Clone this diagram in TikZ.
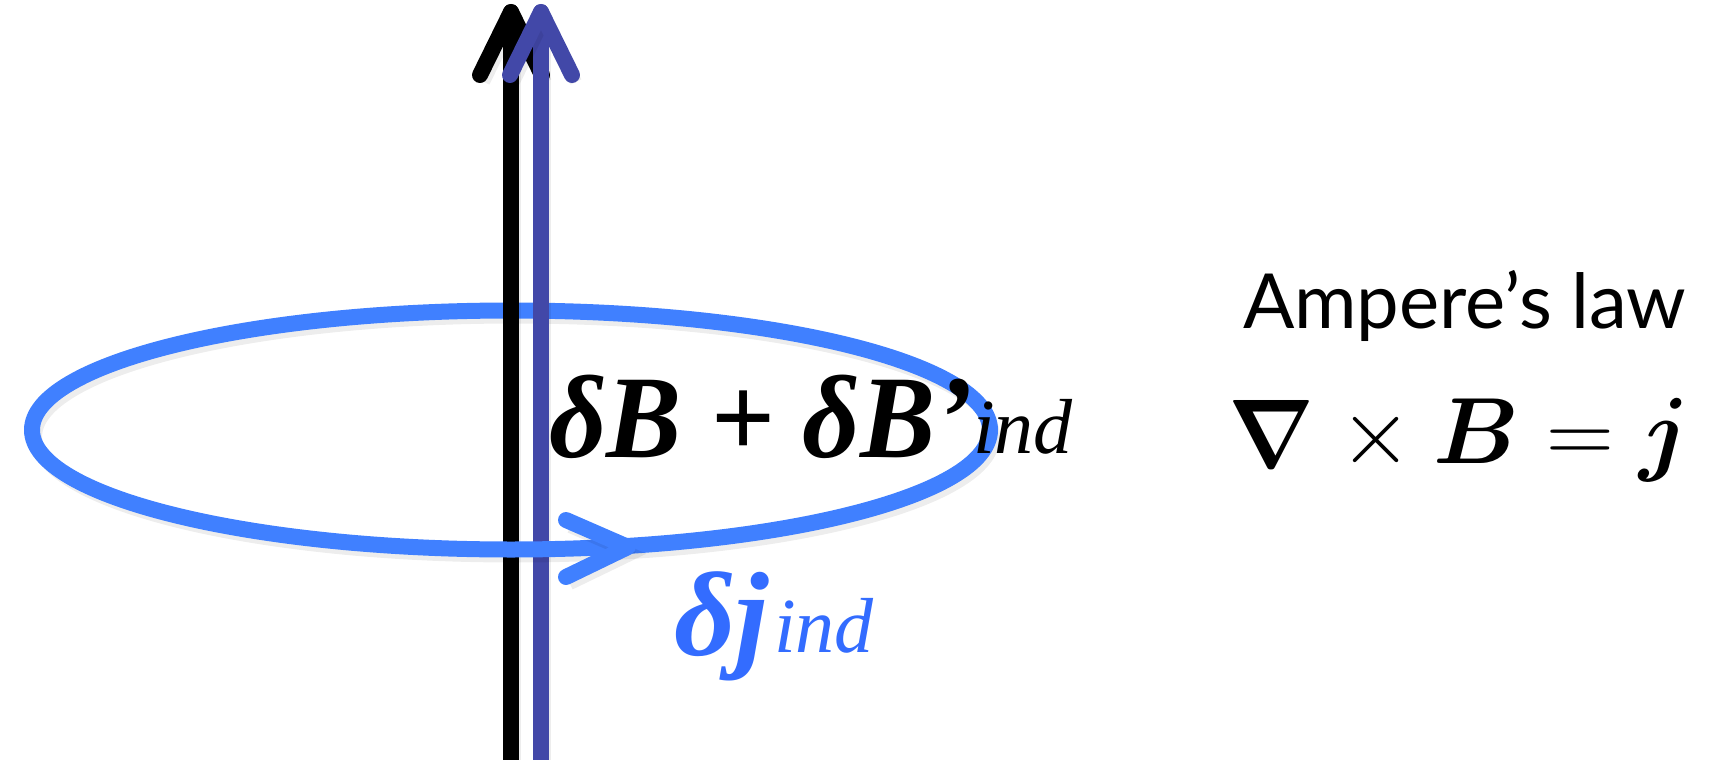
\RequirePackage{fix-cm}
\documentclass[tikz,border=0pt]{standalone}
\usepackage[no-math]{fontspec}
\usepackage{amsmath}
\setmainfont{Liberation Serif}
\newfontfamily\lawfont{Lato}
\definecolor{wireblue}{RGB}{66,72,168}
\definecolor{loopblue}{RGB}{64,128,255}
\definecolor{textblue}{RGB}{51,108,255}
\tikzset{
  softshadow/.style={
    preaction={draw=black, opacity=0.07, line width=+12pt,
      transform canvas={shift={(4pt,-7pt)}}},
    preaction={draw=black, opacity=0.12, line width=+4pt,
      transform canvas={shift={(3pt,-5pt)}}}},
  wire/.style={softshadow, line width=16pt, line cap=round, line join=round},
  loopline/.style={softshadow, line width=16pt, loopblue, line cap=round, line join=round},
  lbl/.style={inner sep=0pt, outer sep=0pt},
}
\begin{document}
\begin{tikzpicture}[x=1pt,y=1pt]
\useasboundingbox (0,0) rectangle (1730,-760);
\coordinate (c) at (511,-430);
% back (top) half of the loop
\draw[loopline] (990,-430) arc[start angle=0, end angle=180, x radius=479pt, y radius=119.5pt];
% black wire
\coordinate (kb) at (511,-780);
\coordinate (kt) at (511,-12);
\draw[wire, black] (kb) -- (kt);
\draw[wire, black] (480,-75) -- (kt) -- (542,-75);
% blue wire
\coordinate (bb) at (541,-780);
\coordinate (bt) at (541,-12);
\draw[wire, wireblue] (bb) -- (bt);
\draw[wire, wireblue] (510,-75) -- (bt) -- (572,-75);
% front (bottom) half of the loop
\draw[loopline] (32,-430) arc[start angle=180, end angle=360, x radius=479pt, y radius=119.5pt];
\coordinate (tip) at (628,-547);
\draw[loopline] (566,-520) -- (tip) -- (566,-577);
% labels
\node[lbl, anchor=base west] (dB) at (549,-457)
  {\fontsize{118}{130}\selectfont\bfseries\itshape\scalebox{0.955}[1]{δB + δB’}};
\node[lbl, anchor=base west] (ind) at (973,-453)
  {\fontsize{78}{90}\selectfont\itshape ind};
\node[lbl, anchor=base west, text=textblue] (dj) at (674,-655)
  {\fontsize{120}{130}\selectfont\bfseries\itshape δj};
\node[lbl, anchor=base west, text=textblue] (jind) at (774,-652)
  {\fontsize{78}{90}\selectfont\itshape ind};
\node[lbl, anchor=base west] (law) at (1243,-328)
  {\fontsize{76}{90}\selectfont\lawfont Ampere’s law};
\node[lbl, anchor=base west] (nabla) at (1228,-467)
  {\resizebox{86pt}{67pt}{$\boldsymbol{\nabla}$}};
\node[lbl, anchor=base west] (eq) at (1319,-463)
  {\fontsize{94}{110}\selectfont${}\times\boldsymbol{B}=\boldsymbol{j}$};
\end{tikzpicture}
\end{document}
